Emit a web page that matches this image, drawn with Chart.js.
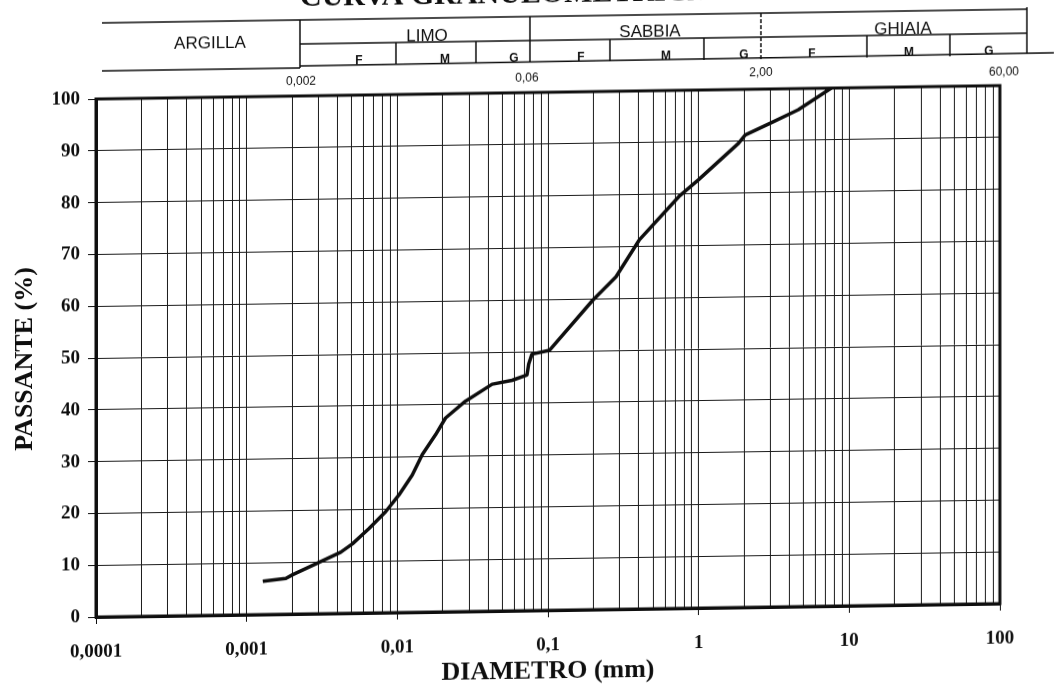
<!DOCTYPE html>
<html>
<head>
<meta charset="utf-8">
<script src="https://cdn.jsdelivr.net/npm/chart.js@4/dist/chart.umd.min.js"></script>
<style>
  html, body { margin: 0; padding: 0; background: #fff; overflow: hidden; }
  #wrap {
    width: 1054px; height: 693px;
    transform: skewY(-0.85deg);
    transform-origin: 96px 0;
  }
</style>
</head>
<body>
<div id="wrap"><canvas id="c" width="1054" height="693"></canvas></div>
<script>
// Curva granulometrica: passante (%) in funzione del diametro (mm)
const diametri = [0.00128, 0.00182, 0.00202, 0.00303, 0.00421, 0.00504, 0.0065, 0.00837,
  0.01026, 0.01257, 0.01464, 0.01794, 0.02089, 0.02834, 0.0426, 0.0578, 0.0726, 0.0745,
  0.0783, 0.1026, 0.198, 0.283, 0.403, 0.74, 1.0, 1.84, 2.04, 3.05, 4.58, 7.6];
const passante = [6.4, 6.9, 7.6, 9.9, 11.8, 13.4, 16.3, 19.5,
  22.7, 26.5, 30.4, 34.2, 37.4, 40.6, 43.8, 44.5, 45.5, 47.6,
  49.5, 50.2, 59.7, 64.2, 71.2, 79.5, 82.7, 89.6, 91.2, 93.5, 95.9, 100];

const decadi = [0.0001, 0.001, 0.01, 0.1, 1, 10, 100];
const etichetteDecadi = ['0,0001', '0,001', '0,01', '0,1', '1', '10', '100'];

const classi = ['ARGILLA', 'LIMO', 'SABBIA', 'GHIAIA'];
const sottoclassi = ['F', 'M', 'G'];
const limitiClassi = ['0,002', '0,06', '2,00', '60,00'];

const INK = '#0e0e0e';
const SERIF = '"Liberation Serif", "Times New Roman", serif';
const SANS = '"Liberation Sans", Arial, sans-serif';

// grid lines of the log paper: 1..9 x each decade, plus the last decade
const xTicks = [];
decadi.forEach((d, i) => {
  if (i === decadi.length - 1) { xTicks.push({ value: d, major: true, label: etichetteDecadi[i] }); return; }
  for (let m = 1; m <= 9; m++) {
    xTicks.push({ value: +(d * m).toPrecision(6), major: m === 1, label: m === 1 ? etichetteDecadi[i] : '' });
  }
});

// header table of the soil classes, drawn above the plot
const HDR = {
  top: 23, mid: 47, bot: 69, argBot: 71, left: 102, end: 1054,
  edges: [300, 530, 761, 1027],
  subEdges: [[396, 476], [610, 704], [867, 950]],
  subX: [[359, 445, 514], [581, 666, 744], [812, 909, 989]],
  groupX: [210, 427, 650, 903], groupY: [45, 41, 40, 41],
  limitX: [301, 527, 761, 1004], limitY: [85, 85, 83, 86]
};

const frameAndHeader = {
  id: 'frameAndHeader',
  afterDraw(chart) {
    const { ctx, chartArea: a } = chart;
    ctx.save();
    ctx.strokeStyle = INK;
    ctx.lineWidth = 3;
    ctx.strokeRect(a.left, a.top, a.right - a.left, a.bottom - a.top);

    // title (partly outside the sheet)
    ctx.fillStyle = INK;
    ctx.font = 'bold 30px ' + SERIF;
    ctx.textAlign = 'left';
    ctx.textBaseline = 'alphabetic';
    ctx.fillText('CURVA GRANULOMETRICA', 300, 9);

    // table lines
    ctx.lineWidth = 1.5;
    const line = (x1, y1, x2, y2, dash) => {
      ctx.setLineDash(dash || []);
      ctx.beginPath(); ctx.moveTo(x1, y1); ctx.lineTo(x2, y2); ctx.stroke();
    };
    const e = HDR.edges;
    line(HDR.left, HDR.top, e[3], HDR.top);
    line(HDR.left, HDR.argBot, e[0], HDR.argBot);
    line(e[0], HDR.mid, e[3], HDR.mid);
    line(e[0], HDR.bot, HDR.end, HDR.bot - 2);
    line(e[0], HDR.top, e[0], HDR.argBot);
    line(e[1], HDR.top, e[1], HDR.bot);
    line(e[2], HDR.top, e[2], HDR.bot, [4, 2]);
    line(e[3], HDR.top - 2, e[3], HDR.bot - 2);
    HDR.subEdges.forEach(pair => pair.forEach(x => line(x, HDR.mid, x, HDR.bot)));
    ctx.setLineDash([]);

    // class names
    ctx.textAlign = 'center';
    ctx.textBaseline = 'middle';
    ctx.font = '17px ' + SANS;
    classi.forEach((c, i) => ctx.fillText(c, HDR.groupX[i], HDR.groupY[i]));
    ctx.font = 'bold 12px ' + SANS;
    ctx.textBaseline = 'alphabetic';
    HDR.subX.forEach(row => row.forEach((x, j) => ctx.fillText(sottoclassi[j], x, HDR.bot - 1)));
    ctx.font = '12px ' + SANS;
    ctx.textBaseline = 'middle';
    limitiClassi.forEach((t, i) => ctx.fillText(t, HDR.limitX[i], HDR.limitY[i]));
    ctx.restore();
  }
};

new Chart(document.getElementById('c'), {
  type: 'line',
  data: {
    datasets: [{
      data: diametri.map((d, i) => ({ x: d, y: passante[i] })),
      borderColor: INK,
      borderWidth: 3.5,
      pointRadius: 0,
      tension: 0,
      borderJoinStyle: 'round',
      fill: false
    }]
  },
  options: {
    responsive: false,
    animation: false,
    layout: { padding: { top: 99, right: 54, left: 0, bottom: 0 } },
    plugins: { legend: { display: false }, tooltip: { enabled: false } },
    scales: {
      x: {
        type: 'logarithmic',
        min: 0.0001,
        max: 100,
        afterBuildTicks: s => { s.ticks = xTicks.map(t => ({ value: t.value, major: t.major, label: t.label })); },
        afterFit: s => { s.height = 76; },
        ticks: {
          autoSkip: false, maxRotation: 0, minRotation: 0,
          padding: 17,
          color: INK,
          font: { family: SERIF, size: 19, weight: 'bold' },
          callback: (v, i) => xTicks[i] ? xTicks[i].label : ''
        },
        grid: {
          color: '#1a1a1a', lineWidth: 1, tickLength: 7,
          tickColor: c => (c.tick && c.tick.major) ? INK : 'rgba(0,0,0,0)'
        },
        border: { color: INK, width: 3 },
        title: {
          display: true, text: 'DIAMETRO (mm)', color: INK,
          font: { family: SERIF, size: 26, weight: 'bold', lineHeight: 1.1 },
          padding: { top: 0, bottom: 0 }
        }
      },
      y: {
        min: 0, max: 100,
        afterFit: s => { s.width = 96; },
        ticks: {
          stepSize: 10, padding: 8, color: INK,
          font: { family: SERIF, size: 19, weight: 'bold' }
        },
        grid: { color: '#1a1a1a', lineWidth: 1, tickLength: 8, tickColor: INK },
        border: { color: INK, width: 3 },
        title: {
          display: true, text: 'PASSANTE (%)', color: INK,
          font: { family: SERIF, size: 26, weight: 'bold' },
          padding: { top: 10, bottom: 0 }
        }
      }
    }
  },
  plugins: [frameAndHeader]
});
</script>
</body>
</html>
